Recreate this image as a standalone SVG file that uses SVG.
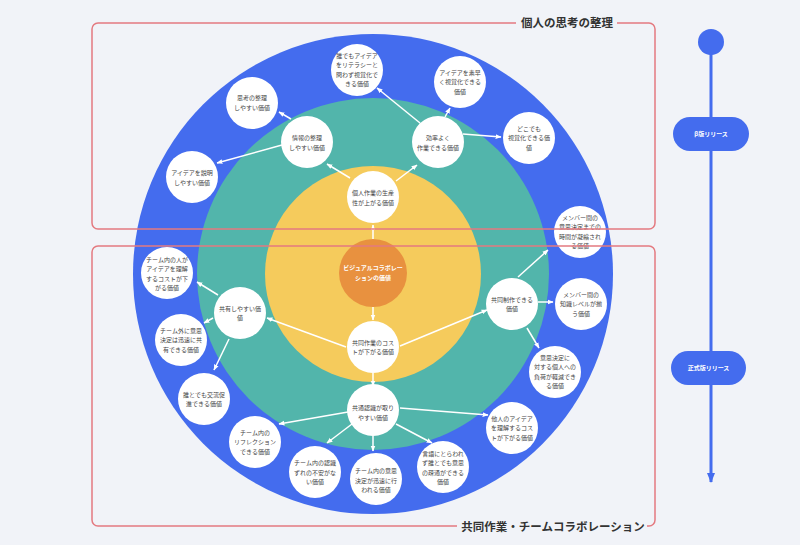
<svg xmlns="http://www.w3.org/2000/svg" width="800" height="545" viewBox="0 0 800 545">
<style>
.bg{fill:#f1f3f8}
.n circle{fill:#fff}
.n text{font-family:"Noto Sans CJK JP","Noto Sans",sans-serif;font-size:6px;fill:#444;text-anchor:middle}
.core text{font-family:"Noto Sans CJK JP","Noto Sans",sans-serif;font-size:6px;font-weight:bold;fill:#fff;text-anchor:middle}
.c line{stroke:#fff;stroke-width:1.5;marker-end:url(#ah)}
.frame{fill:none;stroke:#e47a80;stroke-width:1.5}
.title{font-family:"Noto Sans CJK JP","Noto Sans",sans-serif;font-size:11.5px;font-weight:bold;fill:#333;text-anchor:middle}
.pill text{font-family:"Noto Sans CJK JP","Noto Sans",sans-serif;font-size:6px;font-weight:bold;fill:#fff;text-anchor:middle}
</style>
<defs>
<marker id="ah" viewBox="0 0 10 10" refX="9" refY="5" markerWidth="6" markerHeight="6" markerUnits="userSpaceOnUse" orient="auto"><path d="M0,1 L10,5 L0,9 z" fill="#fff"/></marker>
<marker id="bh" viewBox="0 0 10 10" refX="9" refY="5" markerWidth="10" markerHeight="10" markerUnits="userSpaceOnUse" orient="auto"><path d="M0,1 L10,5 L0,9 z" fill="#446cee"/></marker>
</defs>
<rect class="bg" x="0" y="0" width="800" height="545"/>
<g id="rings">
<circle cx="373" cy="274" r="240" fill="#446cee"/>
<circle cx="373" cy="274" r="176" fill="#52b5ab"/>
<circle cx="373" cy="274" r="108" fill="#f5cb5c"/>
</g>
<g id="connectors" class="c">
<line x1="373" y1="239" x2="373" y2="225"/>
<line x1="373" y1="307" x2="373" y2="320"/>
<line x1="350" y1="178" x2="327" y2="164"/>
<line x1="396" y1="181" x2="417" y2="165"/>
<line x1="291" y1="119" x2="279" y2="112"/>
<line x1="282" y1="145" x2="217" y2="163"/>
<line x1="420" y1="123" x2="377" y2="88"/>
<line x1="445" y1="117" x2="450" y2="108"/>
<line x1="463" y1="134" x2="501" y2="137"/>
<line x1="346" y1="347" x2="267" y2="318"/>
<line x1="400" y1="346" x2="487" y2="310"/>
<line x1="373" y1="373" x2="373" y2="386"/>
<line x1="218" y1="295" x2="197" y2="282"/>
<line x1="213" y1="318" x2="204" y2="323"/>
<line x1="229" y1="339" x2="214" y2="370"/>
<line x1="518" y1="277" x2="548" y2="250"/>
<line x1="538" y1="302" x2="553" y2="302"/>
<line x1="527" y1="328" x2="539" y2="348"/>
<line x1="348" y1="412" x2="279" y2="424"/>
<line x1="352" y1="424" x2="327" y2="443"/>
<line x1="373" y1="436" x2="373" y2="451"/>
<line x1="396" y1="424" x2="432" y2="443"/>
<line x1="400" y1="408" x2="488" y2="415"/>
</g>
<g id="core" class="core">
<circle cx="373" cy="273" r="34" fill="#e8913f"/>
<text x="373" y="269.5">ビジュアルコラボレー</text>
<text x="373" y="279.5">ションの価値</text>
</g>
<g id="n1" class="n"><circle cx="373" cy="197" r="26"/><text x="373" y="195">個人作業の生産</text><text x="373" y="204.6">性が上がる価値</text></g>
<g id="n2" class="n"><circle cx="307" cy="142" r="26"/><text x="307" y="140">情報の整理</text><text x="307" y="149.6">しやすい価値</text></g>
<g id="n3" class="n"><circle cx="438" cy="142" r="26"/><text x="438" y="140">効率よく</text><text x="438" y="149.6">作業できる価値</text></g>
<g id="n4" class="n"><circle cx="252" cy="103" r="26"/><text x="252" y="100">思考の整理</text><text x="252" y="109.6">しやすい価値</text></g>
<g id="n5" class="n"><circle cx="357" cy="70" r="26"/><text x="357" y="57.6">誰でもアイデア</text><text x="357" y="67.2">をリテラシーと</text><text x="357" y="76.8">問わず視覚化で</text><text x="357" y="86.4">きる価値</text></g>
<g id="n6" class="n"><circle cx="460" cy="82" r="26"/><text x="460" y="74.6">アイデアを素早</text><text x="460" y="84.2">く視覚化できる</text><text x="460" y="93.8">価値</text></g>
<g id="n7" class="n"><circle cx="529" cy="138" r="26"/><text x="529" y="130.6">どこでも</text><text x="529" y="140.2">視覚化できる価</text><text x="529" y="149.8">値</text></g>
<g id="n8" class="n"><circle cx="192" cy="177" r="26"/><text x="192" y="175">アイデアを説明</text><text x="192" y="184.6">しやすい価値</text></g>
<g id="n9" class="n"><circle cx="373" cy="347" r="26"/><text x="373" y="344.5">共同作業のコス</text><text x="373" y="354.1">トが下がる価値</text></g>
<g id="n10" class="n"><circle cx="240" cy="313" r="26"/><text x="240" y="310.5">共有しやすい価</text><text x="240" y="320.1">値</text></g>
<g id="n11" class="n"><circle cx="512" cy="304" r="26"/><text x="512" y="301.5">共同制作できる</text><text x="512" y="311.1">価値</text></g>
<g id="n12" class="n"><circle cx="373" cy="410" r="26"/><text x="373" y="410">共通認識が取り</text><text x="373" y="419.6">やすい価値</text></g>
<g id="n13" class="n"><circle cx="167" cy="273" r="26"/><text x="167" y="261.6">チーム内の人が</text><text x="167" y="271.2">アイデアを理解</text><text x="167" y="280.8">するコストが下</text><text x="167" y="290.4">がる価値</text></g>
<g id="n14" class="n"><circle cx="181" cy="340" r="26"/><text x="181" y="332.6">チーム外に意思</text><text x="181" y="342.2">決定は迅速に共</text><text x="181" y="351.8">有できる価値</text></g>
<g id="n15" class="n"><circle cx="204" cy="399" r="26"/><text x="204" y="396.5">誰とでも交流促</text><text x="204" y="406.1">進できる価値</text></g>
<g id="n16" class="n"><circle cx="255" cy="442" r="26"/><text x="255" y="434.6">チーム内の</text><text x="255" y="444.2">リフレクション</text><text x="255" y="453.8">できる価値</text></g>
<g id="n17" class="n"><circle cx="315" cy="472" r="26"/><text x="315" y="465.2">チーム内の認識</text><text x="315" y="474.8">ずれの不安がな</text><text x="315" y="484.4">い価値</text></g>
<g id="n18" class="n"><circle cx="376" cy="479" r="26"/><text x="376" y="473">チーム内の意思</text><text x="376" y="482.6">決定が迅速に行</text><text x="376" y="492.2">われる価値</text></g>
<g id="n19" class="n"><circle cx="443" cy="467" r="26"/><text x="443" y="455.6">言語にとらわれ</text><text x="443" y="465.2">ず誰とでも意思</text><text x="443" y="474.8">の疎通ができる</text><text x="443" y="484.4">価値</text></g>
<g id="n20" class="n"><circle cx="512" cy="428" r="26"/><text x="512" y="420.6">他人のアイデア</text><text x="512" y="430.2">を理解するコス</text><text x="512" y="439.8">トが下がる価値</text></g>
<g id="n21" class="n"><circle cx="580" cy="232" r="26"/><text x="580" y="219.6">メンバー間の</text><text x="580" y="229.2">意思決定までの</text><text x="580" y="238.8">時間が凝縮され</text><text x="580" y="248.4">る価値</text></g>
<g id="n22" class="n"><circle cx="581" cy="304" r="26"/><text x="581" y="296.6">メンバー間の</text><text x="581" y="306.2">知識レベルが揃</text><text x="581" y="315.8">う価値</text></g>
<g id="n23" class="n"><circle cx="555" cy="372" r="26"/><text x="555" y="359.6">意思決定に</text><text x="555" y="369.2">対する個人への</text><text x="555" y="378.8">負荷が軽減でき</text><text x="555" y="388.4">る価値</text></g>
<g id="group-personal">
<path class="frame" d="M516,23 H98 A6,6 0 0 0 92,29 V223 A6,6 0 0 0 98,229 H649 A6,6 0 0 0 655,223 V29 A6,6 0 0 0 649,23 H617"/>
<text class="title" x="567" y="27">個人の思考の整理</text>
</g>
<g id="group-team">
<path class="frame" d="M457,526 H98 A6,6 0 0 1 92,520 V252 A6,6 0 0 1 98,246 H649 A6,6 0 0 1 655,252 V520 A6,6 0 0 1 649,526 H647"/>
<text class="title" x="553" y="530.5">共同作業・チームコラボレーション</text>
</g>
<g id="timeline">
<line x1="711" y1="42" x2="711" y2="482" stroke="#446cee" stroke-width="3" marker-end="url(#bh)"/>
<circle cx="711" cy="42" r="13" fill="#446cee"/>
</g>
<g id="beta" class="pill"><rect x="673" y="117" width="76" height="34" rx="17" fill="#446cee"/><text x="711" y="136">β版リリース</text></g>
<g id="release" class="pill"><rect x="671" y="351" width="75" height="34" rx="17" fill="#446cee"/><text x="708.5" y="370">正式版リリース</text></g>
</svg>
